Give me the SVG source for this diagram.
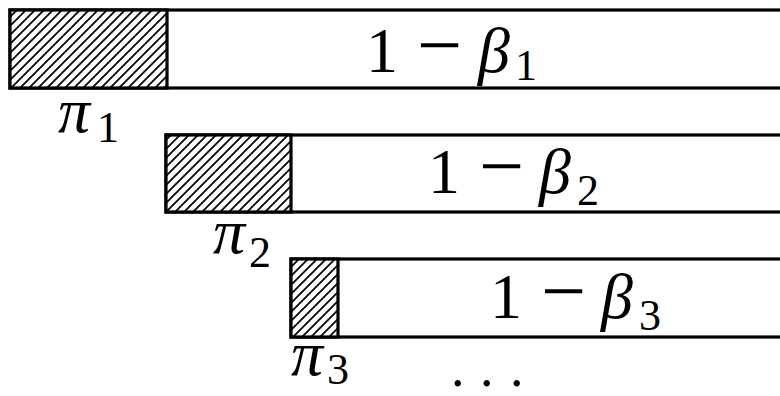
<svg xmlns="http://www.w3.org/2000/svg" width="780" height="396" viewBox="0 0 780 396">
<rect width="780" height="396" fill="#fff"/>
<defs>
<pattern id="hp" patternUnits="userSpaceOnUse" width="9" height="9">
<rect width="9" height="9" fill="#fff"/>
<path d="M-2,2 L2,-2 M0,9 L9,0 M7,11 L11,7" stroke="#000" stroke-width="1.7"/>
</pattern>
</defs>
<g id="bar1" stroke-width="3.2">
<rect x="10" y="10" width="800" height="78" fill="#fff" stroke="#000"/>
<rect x="10" y="10" width="157" height="78" fill="url(#hp)" stroke="#000"/>
</g>
<text x="366" y="72" font-family="Liberation Serif" font-size="64">1</text>
<text x="417" y="72" font-family="Liberation Serif" font-size="80">−</text>
<text x="478" y="72" font-family="Liberation Serif" font-size="64" font-style="italic">β</text>
<text x="515" y="80" font-family="Liberation Serif" font-size="44">1</text>
<text x="58" y="132" font-family="Liberation Serif" font-size="64" font-style="italic">π</text>
<text x="97" y="142" font-family="Liberation Serif" font-size="44">1</text>
<g id="bar2" stroke-width="3.2">
<rect x="166" y="135" width="700" height="77" fill="#fff" stroke="#000"/>
<rect x="166" y="135" width="125" height="77" fill="url(#hp)" stroke="#000"/>
</g>
<g>
<text x="428" y="193" font-family="Liberation Serif" font-size="64">1</text>
<text x="479" y="193" font-family="Liberation Serif" font-size="80">−</text>
<text x="539" y="193" font-family="Liberation Serif" font-size="64" font-style="italic">β</text>
<text x="577" y="205" font-family="Liberation Serif" font-size="44">2</text>
<text x="213" y="253" font-family="Liberation Serif" font-size="64" font-style="italic">π</text>
<text x="249" y="267" font-family="Liberation Serif" font-size="44">2</text>
</g>
<g id="bar3" stroke-width="3.2">
<rect x="291" y="259" width="600" height="78" fill="#fff" stroke="#000"/>
<rect x="291" y="259" width="47" height="78" fill="url(#hp)" stroke="#000"/>
</g>
<g id="label3">
<text x="490" y="318" font-family="Liberation Serif" font-size="64">1</text>
<text x="541" y="318" font-family="Liberation Serif" font-size="80">−</text>
<text x="601" y="318" font-family="Liberation Serif" font-size="64" font-style="italic">β</text>
<text x="639" y="330" font-family="Liberation Serif" font-size="44">3</text>
</g>
<g id="pi3">
<text x="291" y="375" font-family="Liberation Serif" font-size="64" font-style="italic">π</text>
<text x="327" y="384" font-family="Liberation Serif" font-size="44">3</text>
</g>
<g id="dots">
<text x="451 480 510" y="386" font-family="Liberation Serif" font-size="54">...</text>
</g>
</svg>
